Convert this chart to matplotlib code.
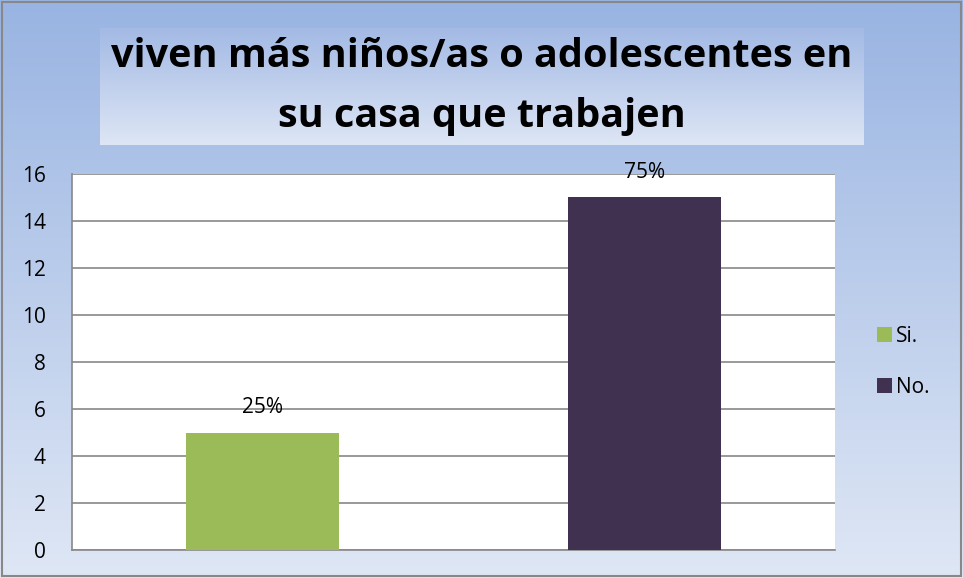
import numpy as np
import matplotlib
matplotlib.use("Agg")
import matplotlib.pyplot as plt
from matplotlib.colors import LinearSegmentedColormap
from matplotlib.patches import Rectangle

categories = ["Si.", "No."]
values = [5, 15]
labels = ["25%", "75%"]
colors = ["#9BBB59", "#403151"]
title = "viven más niños/as o adolescentes en\nsu casa que trabajen"
yticks = [0, 2, 4, 6, 8, 10, 12, 14, 16]

W, H = 963, 578
FONT = ["Open Sans", "DejaVu Sans"]
fig = plt.figure(figsize=(W / 100, H / 100), dpi=100)

# background gradient
bg = fig.add_axes([0, 0, 1, 1], zorder=0)
bg_cmap = LinearSegmentedColormap.from_list("bg", ["#99B4E2", "#DFE7F5"])
grad = np.linspace(0, 1, 256).reshape(-1, 1)
bg.imshow(grad, aspect="auto", cmap=bg_cmap, extent=[0, 1, 0, 1], origin="upper")
bg.set_xlim(0, 1); bg.set_ylim(0, 1)
bg.axis("off")
bg.add_patch(Rectangle((0.002, 0.003), 0.996, 0.994, fill=False, ec="#888888", lw=1.5))

# title box gradient
tb_x0, tb_x1 = 100 / W, 863 / W
tb_y0, tb_y1 = 1 - 145 / H, 1 - 28 / H
tb = fig.add_axes([tb_x0, tb_y0, tb_x1 - tb_x0, tb_y1 - tb_y0], zorder=1)
tb_cmap = LinearSegmentedColormap.from_list("tb", ["#A3BAE5", "#DEE6F5"])
tb.imshow(grad, aspect="auto", cmap=tb_cmap, extent=[0, 1, 0, 1], origin="upper")
tb.axis("off")
tb.text(0.5, 0.5, title, ha="center", va="center", fontsize=28.5, fontweight="bold",
        family=FONT, linespacing=1.7, transform=tb.transAxes)

# main plot
left, right = 72 / W, 835 / W
bottom, top = 1 - 550 / H, 1 - 174 / H
ax = fig.add_axes([left, bottom, right - left, top - bottom], zorder=2)
ax.set_facecolor("white")
x = np.arange(len(categories))
bars = ax.bar(x, values, width=0.4, color=colors, label=categories, zorder=3)
for xi, v, lab in zip(x, values, labels):
    ax.annotate(lab, (xi, v), xytext=(0, 18), textcoords="offset points",
                ha="center", va="center", fontsize=15, family=FONT)
ax.set_xlim(-0.5, 1.5)
ax.set_ylim(0, 16)
ax.set_yticks(yticks)
ax.set_yticklabels([str(t) for t in yticks], fontsize=15, family=FONT)
ax.set_xticks([])
ax.yaxis.grid(True, color="#888888", lw=1.2, zorder=0)
ax.tick_params(axis="y", length=0, pad=19)
for s in ["top", "right"]:
    ax.spines[s].set_visible(False)
for s in ["left", "bottom"]:
    ax.spines[s].set_color("#888888")
    ax.spines[s].set_linewidth(1.2)

leg = fig.legend(handles=bars.patches, labels=categories, loc="center left",
                 bbox_to_anchor=(877 / W, 1 - 362 / H), frameon=False,
                 prop={"family": FONT, "size": 15}, borderpad=0, borderaxespad=0,
                 handlelength=0.72, handleheight=0.72, handletextpad=0.2, labelspacing=1.45)

fig.savefig("out.png", dpi=100)
